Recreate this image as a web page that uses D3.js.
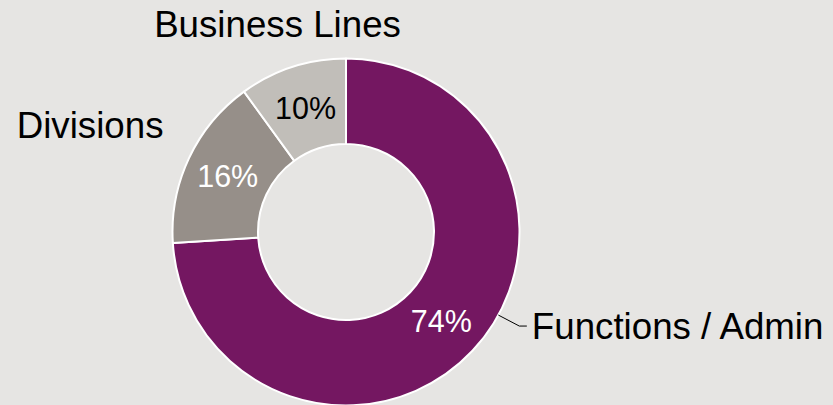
<!DOCTYPE html>
<html>
<head>
<meta charset="utf-8">
<script src="https://cdn.jsdelivr.net/npm/d3@7"></script>
<style>
  body { margin: 0; background: #e6e5e3; }
  svg { display: block; font-family: "Liberation Sans", Arial, sans-serif; }
</style>
</head>
<body>
<div id="vis"></div>
<script>
// data
var categories = ["Functions / Admin", "Divisions", "Business Lines"];
var shares = [74, 16, 10];
var sliceColors = ["#741761", "#968f89", "#c1beb9"];
var pctColors = ["#ffffff", "#ffffff", "#000000"];

var width = 833, height = 405;
var cx = 346, cy = 232,
    outerR = 173.5, innerR = 88;

var svg = d3.select("#vis")
  .append("svg")
    .attr("width", width)
    .attr("height", height);

svg.append("rect")
    .attr("width", width)
    .attr("height", height)
    .attr("fill", "#e6e5e3");

var g = svg.append("g")
    .attr("transform", "translate(" + cx + "," + cy + ")");

var data = categories.map(function(c, i){
  return {name: c, value: shares[i], color: sliceColors[i], txt: pctColors[i]};
});

var pie = d3.pie()
    .sort(null)
    .value(function(d){ return d.value; });

var arc = d3.arc()
    .innerRadius(innerR)
    .outerRadius(outerR);

var arcs = pie(data);

g.selectAll("path.slice")
  .data(arcs)
  .enter()
  .append("path")
    .attr("class", "slice")
    .attr("d", arc)
    .attr("fill", function(d){ return d.data.color; })
    .attr("stroke", "#ffffff")
    .attr("stroke-width", 2)
    .attr("stroke-linejoin", "round");

// percentage labels at the centroid
g.selectAll("text.pct")
  .data(arcs)
  .enter()
  .append("text")
    .attr("class", "pct")
    .attr("transform", function(d){ return "translate(" + arc.centroid(d) + ")"; })
    .attr("text-anchor", "middle")
    .attr("dy", "0.36em")
    .style("font-size", "30.5px")
    .style("fill", function(d){ return d.data.txt; })
    .text(function(d){ return d.data.value + "%"; });

// category labels (placed like the original, outside the ring)
var labelFont = "36.7px";

// Functions / Admin with a small leader line
var a0 = 118.6 * Math.PI / 180;
var p0 = [outerR * Math.sin(a0), -outerR * Math.cos(a0)];
var elbowY = p0[1] + 11;
g.append("polyline")
    .attr("points", [p0, [p0[0] + 21, elbowY], [p0[0] + 28.5, elbowY]].map(function(p){ return p.join(","); }).join(" "))
    .attr("fill", "none")
    .attr("stroke", "#000")
    .attr("stroke-width", 1);

g.append("text")
    .attr("x", p0[0] + 33.5)
    .attr("y", elbowY)
    .attr("dy", "0.36em")
    .attr("text-anchor", "start")
    .style("font-size", labelFont)
    .text(categories[0]);

// Divisions
g.append("text")
    .attr("x", -outerR - 9)
    .attr("y", -outerR + 79)
    .attr("text-anchor", "end")
    .style("font-size", labelFont)
    .text(categories[1]);

// Business Lines
g.append("text")
    .attr("x", -68.5)
    .attr("y", -outerR - 21.8)
    .attr("text-anchor", "middle")
    .style("font-size", labelFont)
    .text(categories[2]);
</script>
</body>
</html>
